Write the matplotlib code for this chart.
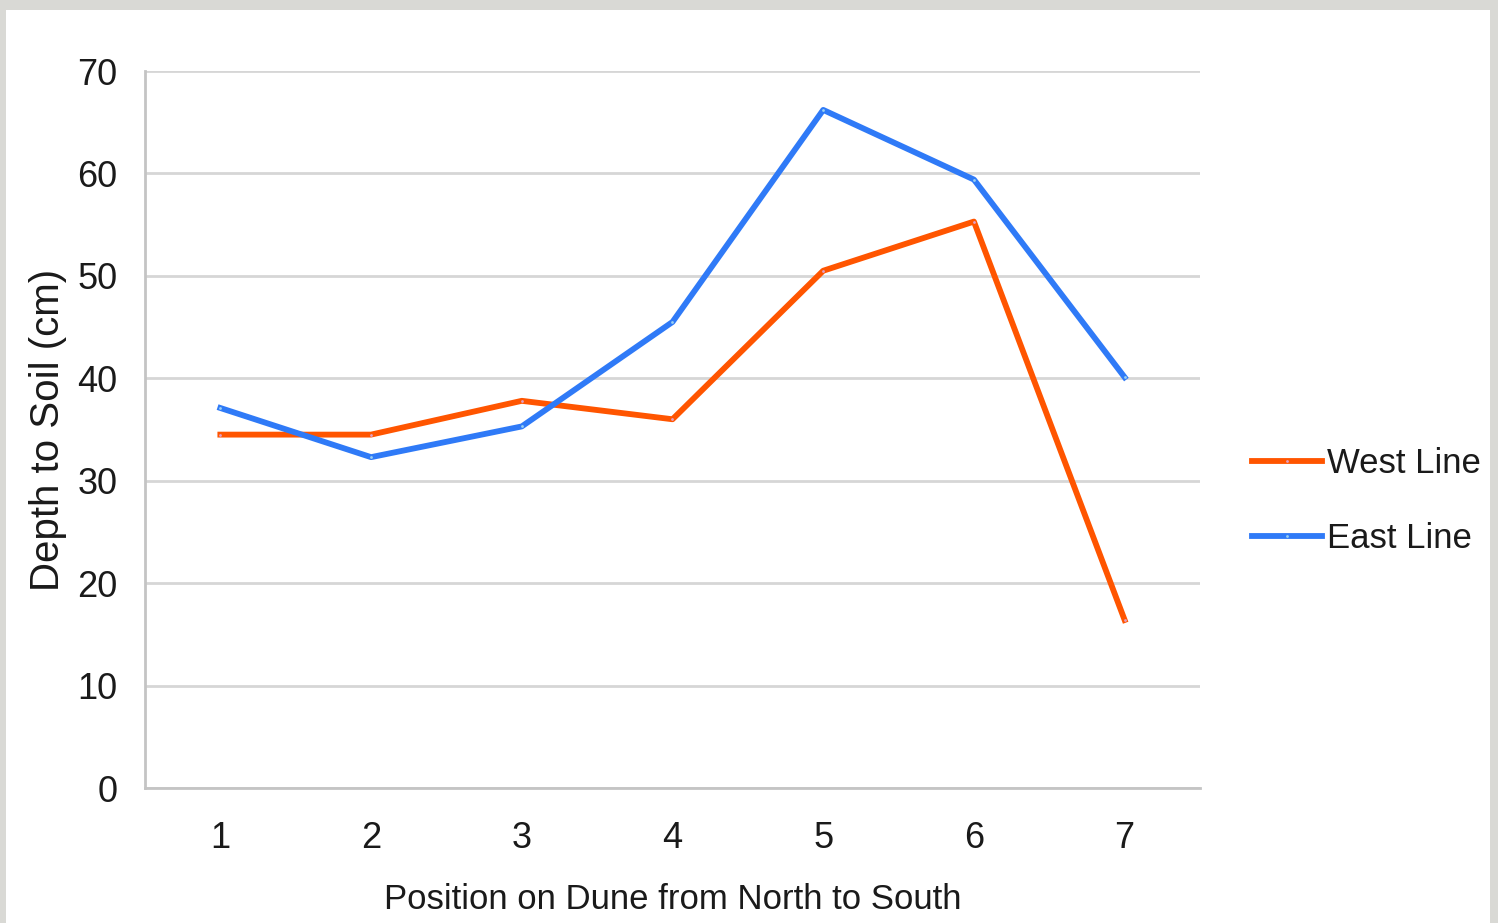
import numpy as np
import matplotlib.pyplot as plt
from matplotlib.patches import Rectangle

positions = [1, 2, 3, 4, 5, 6, 7]
west_line = [34.5, 34.5, 37.8, 36.0, 50.5, 55.3, 16.4]
east_line = [37.1, 32.3, 35.3, 45.5, 66.2, 59.4, 40.1]
y_ticks = [0, 10, 20, 30, 40, 50, 60, 70]

plt.rcParams['font.family'] = ['Liberation Sans', 'DejaVu Sans']

fig = plt.figure(figsize=(14.98, 9.23), dpi=100, facecolor='#d9d9d5')
# white card on the grey stone background
fig.patches.append(Rectangle((6/1498, 0), 1484/1498, 913/923, transform=fig.transFigure,
                             facecolor='white', edgecolor='none', zorder=-5))

ax = fig.add_axes([145/1498, 135/923, 1055/1498, 717/923])
ax.set_facecolor('none')

ax.plot(positions, west_line, color='#ff5500', lw=4.2, label='West Line', zorder=3,
        marker='.', ms=4, mfc='#e0a0c8', mec='none')
ax.plot(positions, east_line, color='#2f7af7', lw=4.2, label='East Line', zorder=3,
        marker='.', ms=4, mfc='#9ad0f0', mec='none')

ax.set_xlim(0.5, 7.5)
ax.set_ylim(0, 70)
ax.set_xticks(positions)
ax.set_yticks(y_ticks)
ax.yaxis.grid(True, color='#d6d6d6', lw=2)
ax.set_axisbelow(True)
for s in ['top', 'right']:
    ax.spines[s].set_visible(False)
for s in ['left', 'bottom']:
    ax.spines[s].set_color('#c4c4c4')
    ax.spines[s].set_linewidth(2)
ax.tick_params(length=0, labelsize=26, colors='#1a1a1a')
ax.tick_params(axis='y', pad=20)
ax.tick_params(axis='x', pad=24)
for t in ax.get_yticklabels():
    t.set_va('center_baseline')

ax.set_xlabel('Position on Dune from North to South', fontsize=25, color='#1a1a1a', labelpad=19)
ax.set_ylabel('Depth to Soil (cm)', fontsize=29, color='#1a1a1a', labelpad=7)

ax.legend(loc='center left', bbox_to_anchor=(1.020, 0.40), frameon=False, fontsize=25,
          handlelength=2.0, handletextpad=0.15, labelspacing=1.2, labelcolor='#1a1a1a')

fig.savefig('out.png', dpi=100, facecolor=fig.get_facecolor())
